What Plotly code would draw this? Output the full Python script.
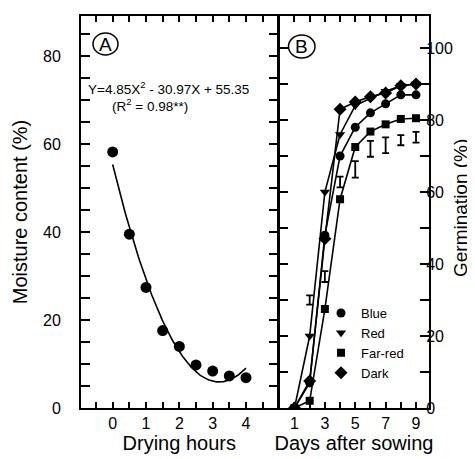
import numpy as np
import plotly.graph_objects as go

# ---------------- data ----------------
# Panel A: moisture content vs drying hours
drying_hours = [0, 0.5, 1, 1.5, 2, 2.5, 3, 3.5, 4]
moisture = [58.2, 39.5, 27.4, 17.6, 14.0, 9.8, 8.4, 7.3, 6.9]
fit_coef = [4.85, -30.97, 55.35]          # Y = 4.85X^2 - 30.97X + 55.35
fit_span = [0, 4]

# Panel B: germination vs days after sowing
days = [1, 2, 3, 4, 5, 6, 7, 8, 9]
blue = [0, 7, 48, 70, 78, 82, 84.5, 87, 87]
red = [0, 20, 60, 76, 84, 86, 88, 89.5, 90]
farred = [0, 2, 27.5, 58, 72.5, 76.8, 78.8, 80.3, 80.5]
dark = [0, 7.5, 47, 83, 85, 86.5, 87.5, 89.5, 90]

# stand-alone error bars
err_days = [2, 3, 4, 5, 6, 7, 8, 9]
err_center = [30, 36.5, 62.8, 66.3, 72, 73, 74.4, 75.2]
err_half = [1.3, 1.5, 1.5, 2.3, 2.2, 2.2, 1.4, 1.5]

series_names = ["Blue", "Red", "Far-red", "Dark"]
series_values = [blue, red, farred, dark]
series_symbols = ["circle", "triangle-down", "square", "diamond"]
series_sizes = [9, 9, 8, 10]

xa_ticks = [0, 1, 2, 3, 4]
ya_ticks = [0, 20, 40, 60, 80]
xb_ticks = [1, 3, 5, 7, 9]
yb_ticks = [0, 20, 40, 60, 80, 100]

FONT = "Liberation Sans, Arial, Helvetica, sans-serif"
BLACK = "black"

# ---------------- figure ----------------
W, H = 475, 459
L, R, T, B = 73, 54, 8, 59
pw, ph = W - L - R, H - T - B


def px_x(p):
    return (p - L) / pw


def px_y(p):
    return (H - B - p) / ph


fig = go.Figure()

# fitted curve (panel A)
xf = np.linspace(fit_span[0], fit_span[1], 120)
yf = np.polyval(fit_coef, xf)
fig.add_trace(go.Scatter(x=xf, y=yf, mode="lines", line=dict(color=BLACK, width=1.6),
                         showlegend=False, xaxis="x", yaxis="y", hoverinfo="skip"))
fig.add_trace(go.Scatter(x=drying_hours, y=moisture, mode="markers",
                         marker=dict(symbol="circle", size=11, color=BLACK),
                         showlegend=False, xaxis="x", yaxis="y"))

# error bars (panel B)
fig.add_trace(go.Scatter(x=err_days, y=err_center, mode="markers",
                         marker=dict(size=1, color="rgba(0,0,0,0)"),
                         error_y=dict(type="data", array=err_half, visible=True,
                                      color=BLACK, thickness=1.8, width=3.5),
                         showlegend=False, xaxis="x2", yaxis="y2", hoverinfo="skip"))

# lines (panel B)
for name, vals in zip(series_names, series_values):
    fig.add_trace(go.Scatter(x=days, y=vals, mode="lines",
                             line=dict(color=BLACK, width=1.6),
                             showlegend=False, xaxis="x2", yaxis="y2", hoverinfo="skip"))
# markers (panel B)
for name, vals, sym, sz in zip(series_names, series_values, series_symbols, series_sizes):
    fig.add_trace(go.Scatter(x=days, y=vals, mode="markers", name=name,
                             marker=dict(symbol=sym, size=sz, color=BLACK),
                             xaxis="x2", yaxis="y2"))

axis_common = dict(showline=True, linecolor=BLACK, linewidth=2, mirror="ticks",
                   ticks="inside", tickcolor=BLACK, tickwidth=1.5,
                   showgrid=False, zeroline=False,
                   tickfont=dict(family=FONT, size=16, color=BLACK))

dom_a = [0, px_x(269.5)]
dom_b = [px_x(271), 1]

fig.update_layout(
    width=W, height=H,
    margin=dict(l=L, r=R, t=T, b=B, autoexpand=False),
    paper_bgcolor="white", plot_bgcolor="white",
    font=dict(family=FONT, color=BLACK),
    xaxis=dict(domain=dom_a, range=[-0.95, 4.945], anchor="y",
               tickvals=xa_ticks, ticklen=6, ticklabelstandoff=0,
               minor=dict(dtick=0.5, tick0=0, ticklen=6, ticks="inside", tickcolor=BLACK, tickwidth=1.5),
               title=dict(text="Drying hours", font=dict(family=FONT, size=20), standoff=2),
               **axis_common),
    yaxis=dict(domain=[0, 1], range=[0, 89.1], anchor="x",
               tickvals=ya_ticks, ticklen=9, ticklabelstandoff=15,
               minor=dict(dtick=5, tick0=0, ticklen=9, ticks="inside", tickcolor=BLACK, tickwidth=1.5),
               title=dict(text="Moisture content (%)", font=dict(family=FONT, size=20), standoff=10),
               **axis_common),
    xaxis2=dict(domain=dom_b, range=[-0.02, 9.855], anchor="y2",
                tickvals=xb_ticks, ticklen=6, ticklabelstandoff=0,
                minor=dict(dtick=1, tick0=0, ticklen=6, ticks="inside", tickcolor=BLACK, tickwidth=1.5),
                title=dict(text="Days after sowing", font=dict(family=FONT, size=20), standoff=2),
                **axis_common),
    yaxis2=dict(domain=[0, 1], range=[0, 108.9], anchor="x2", side="right",
                tickvals=yb_ticks, ticklen=9, ticklabelstandoff=-8,
                minor=dict(dtick=10, tick0=0, ticklen=9, ticks="inside", tickcolor=BLACK, tickwidth=1.5),
                **axis_common),
    legend=dict(x=px_x(313), y=px_y(290), xanchor="left", yanchor="top",
                bgcolor="rgba(0,0,0,0)", borderwidth=0, tracegroupgap=0,
                itemwidth=30, font=dict(family=FONT, size=13, color=BLACK)),
    showlegend=True,
)

# circled panel letters
fig.add_shape(type="circle", xref="paper", yref="paper",
              x0=px_x(85), x1=px_x(110), y0=px_y(47), y1=px_y(25),
              line=dict(color=BLACK, width=1.5))
fig.add_shape(type="circle", xref="paper", yref="paper",
              x0=px_x(280.5), x1=px_x(307), y0=px_y(50), y1=px_y(27),
              line=dict(color=BLACK, width=1.5))

annots = [
    dict(text="A", x=px_x(97.5), y=px_y(36.5), xanchor="center", font=dict(size=19)),
    dict(text="B", x=px_x(293.8), y=px_y(38.5), xanchor="center", font=dict(size=19)),
    dict(text="Y=4.85X<sup>2</sup> - 30.97X + 55.35", x=px_x(78), y=px_y(80), xanchor="left", font=dict(size=13.5)),
    dict(text="(R<sup>2</sup> = 0.98**)", x=px_x(102), y=px_y(97), xanchor="left", font=dict(size=13.5)),
    dict(text="Germination (%)", x=px_x(452), y=px_y(200), xanchor="center", textangle=-90, font=dict(size=19)),
]
for a in annots:
    fnt = dict(family=FONT, color=BLACK)
    fnt.update(a.pop("font"))
    fig.add_annotation(xref="paper", yref="paper", showarrow=False,
                       yanchor="middle", font=fnt, **a)

fig.write_html("out.html")
